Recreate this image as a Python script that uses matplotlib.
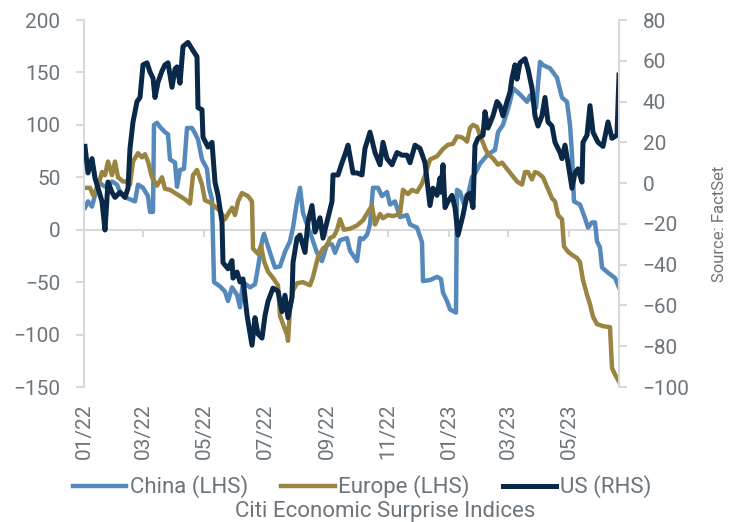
import numpy as np
import matplotlib
matplotlib.use("Agg")
import matplotlib.pyplot as plt
import matplotlib.dates as mdates

plt.rcParams['font.family'] = ['Roboto', 'DejaVu Sans']

# days since 2022-01-01 and index values
china_day = [1, 4, 8, 11, 14, 18, 23, 28, 33, 36, 41, 46, 51, 54, 59, 64, 66, 69, 70, 73,
             76, 81, 84, 86, 91, 93, 96, 100, 103, 108, 111, 114, 118, 123, 125, 128, 130,
             136, 141, 144, 148, 153, 156, 159, 166, 171, 174, 178, 180, 183, 186, 191, 196,
             201, 206, 209, 213, 216, 219, 223, 228, 233, 238, 243, 248, 251, 256, 263, 266,
             273, 276, 279, 283, 286, 289, 294, 298, 303, 306, 311, 316, 323, 326, 333, 338,
             339, 346, 353, 357, 359, 363, 366, 372, 373, 376, 380, 384, 388, 392, 396, 404,
             411, 414, 419, 423, 426, 429, 436, 443, 446, 452, 456, 459, 466, 473, 478, 483,
             486, 488, 490, 496, 501, 504, 508, 511, 513, 516, 518, 524, 531, 535]
china_val = [21, 27, 22, 33, 46, 43, 40, 46, 43, 36, 31, 29, 27, 43, 40, 32, 17, 17, 100, 102,
             98, 93, 91, 67, 64, 41, 57, 58, 97, 97, 92, 86, 67, 58, 40, 29, -50,
             -54, -59, -68, -55, -62, -74, -50, -55, -52, -36, -11, -4, -13, -22, -36, -35,
             -21, -11, 2, 27, 40, 16, 5, -8, -22, -30, -14, -14, -22, -10, -8, -20,
             -30, -8, -9, -5, 5, 40, 40, 32, 36, 24, 27, 12, 14, 5, 2, -12,
             -49, -48, -45, -47, -60, -68, -76, -79, 38, 36, 24, 33, 50, 55, 63, 72,
             76, 93, 100, 112, 122, 135, 129, 122, 128, 116, 160, 157, 154, 145, 126, 122,
             100, 72, 27, 24, 11, 2, 7, 7, -11, -17, -36, -41, -46, -55]

europe_day = [1, 6, 9, 14, 18, 21, 24, 28, 31, 34, 39, 43, 46, 49, 54, 58, 61, 64, 68, 73,
              78, 81, 86, 91, 96, 101, 106, 109, 113, 118, 121, 126, 131, 136, 141, 144, 148,
              151, 154, 158, 164, 168, 169, 174, 177, 180, 184, 189, 194, 196, 199, 203, 204,
              206, 209, 213, 219, 226, 229, 234, 239, 243, 246, 250, 253, 256, 260, 266, 273,
              279, 284, 288, 291, 296, 299, 304, 309, 316, 319, 324, 328, 333, 338, 341, 346,
              353, 359, 364, 369, 373, 378, 381, 383, 386, 389, 393, 396, 401, 404, 409, 414,
              418, 423, 428, 433, 438, 441, 444, 448, 451, 454, 459, 464, 468, 471, 474, 478,
              480, 484, 488, 493, 496, 499, 503, 506, 509, 513, 519, 526, 528, 531, 535]
europe_val = [40, 40, 33, 41, 55, 52, 65, 52, 65, 50, 46, 46, 43, 65, 73, 69, 72, 65, 50, 42,
              50, 39, 38, 35, 32, 29, 25, 52, 57, 43, 28, 26, 22, 18, 10, 15, 21,
              14, 27, 35, 32, 27, -18, -23, -15, -30, -40, -46, -53, -82, -90, -100, -106,
              -75, -58, -51, -50, -53, -45, -26, -18, -15, -8, -6, 0, 10, 0, 1, 4,
              9, 17, 23, 5, 15, 11, 14, 13, 15, 38, 34, 38, 36, 44, 52, 67,
              70, 77, 81, 82, 89, 88, 86, 84, 97, 100, 98, 90, 78, 72, 68, 62,
              64, 58, 52, 46, 43, 55, 55, 48, 55, 54, 50, 39, 30, 27, 14, 10,
              -16, -21, -24, -27, -31, -48, -62, -71, -83, -90, -92, -93, -132, -138, -145]

us_day = [1, 4, 8, 11, 14, 18, 21, 24, 28, 31, 36, 41, 44, 46, 49, 53, 56, 59, 63, 66,
          69, 71, 74, 78, 81, 84, 88, 91, 93, 96, 99, 104, 109, 113, 114, 118, 119, 124,
          128, 131, 134, 138, 139, 144, 148, 149, 153, 156, 159, 163, 168, 171, 174, 178,
          181, 184, 189, 194, 198, 201, 204, 208, 209, 213, 216, 221, 224, 228, 231, 236,
          239, 243, 248, 249, 254, 258, 261, 264, 269, 273, 278, 281, 286, 291, 296, 299,
          303, 308, 313, 318, 323, 326, 331, 336, 341, 344, 346, 349, 353, 356, 357, 359,
          361, 364, 368, 371, 374, 379, 383, 386, 389, 391, 394, 399, 401, 404, 409, 413,
          416, 419, 423, 426, 428, 431, 433, 436, 441, 444, 448, 451, 454, 458, 461, 464,
          468, 471, 476, 478, 481, 484, 488, 491, 494, 498, 499, 503, 506, 509, 514, 519,
          524, 528, 533, 535]
us_val = [18, 5, 12, 2.5, -2.5, -9, -23, 0.5, -4.5, -7, -4.5, -7, -2.5, 17, 30, 40, 42, 58, 59, 54.5,
          51.5, 42, 49.5, 55, 58, 59, 47, 56, 57, 49, 67, 69, 65, 62, 37, 36, 22.5, 17.7,
          20, 0.5, -6, -19, -39, -42, -38, -46.6, -43.6, -48.5, -47, -64.7, -79.5, -66, -74, -76,
          -65, -58, -51.5, -53, -63, -55, -66, -56, -39, -27, -25.5, -34, -19, -11, -24, -17,
          -27, -19, -9, 4, 4, 10, 14, 18.6, 5, 5, 4, 17, 25, 15, 9, 20,
          12, 9, 15, 13.7, 13.7, 10, 18.6, 17, 10, -2.5, -11, -2.5, -6, 2.5, -4.5, 9,
          -12, -9, -6, -12, -25.5, -15.7, -6, -5, -12, 18.6, 22, 23.5, 35, 27, 33, 40,
          38, 33, 40, 44.6, 51.5, 58, 51, 59, 61, 56, 46.6, 33, 28, 33, 42, 30,
          28, 20, 15, 12, 18.6, 10, -2.5, 5, 7, 0.5, 20, 23.5, 38, 25, 20, 18,
          30, 22, 23.5, 53]

series_names = ['China (LHS)', 'Europe (LHS)', 'US (RHS)']
colors = ['#5589bb', '#9a8442', '#0a2848']
start = np.datetime64('2022-01-01')

grey = '#6d757c'
axis_grey = '#d9d9d9'

fig = plt.figure(figsize=(7.29, 5.22), dpi=100)
ax = fig.add_axes([84 / 729, 1 - 387 / 522, 535 / 729, 367 / 522])
ax2 = ax.twinx()

def to_dates(days):
    return start + np.array(days).astype('timedelta64[D]')

l1, = ax.plot(to_dates(china_day), china_val, color=colors[0], lw=3.2, solid_joinstyle='round')
l2, = ax.plot(to_dates(europe_day), europe_val, color=colors[1], lw=3.2, solid_joinstyle='round')
l3, = ax2.plot(to_dates(us_day), us_val, color=colors[2], lw=3.6, solid_joinstyle='round')

ax.set_xlim(start, start + np.timedelta64(535, 'D'))
ax.set_ylim(-150, 200)
ax.set_yticks(np.arange(-150, 201, 50))
ax2.set_ylim(-100, 80)
ax2.set_yticks(np.arange(-100, 81, 20))

for a in (ax, ax2):
    for s in a.spines.values():
        s.set_visible(False)
ax.spines['left'].set_visible(True)
ax.spines['left'].set_color(axis_grey)
ax.spines['left'].set_linewidth(1.5)
ax2.spines['right'].set_visible(True)
ax2.spines['right'].set_color(axis_grey)
ax2.spines['right'].set_linewidth(1.5)

ax.tick_params(axis='y', colors=axis_grey, labelcolor=grey, labelsize=15, length=6, width=1.5, pad=11)
ax2.tick_params(axis='y', colors=axis_grey, labelcolor=grey, labelsize=15, length=6, width=1.5, pad=11)

# month labels at the bottom, axis line itself sits at zero
month_loc = mdates.MonthLocator(bymonth=[1, 3, 5, 7, 9, 11])
ax.xaxis.set_major_locator(month_loc)
ax.xaxis.set_major_formatter(mdates.DateFormatter('%m/%y'))
ax.tick_params(axis='x', length=0, labelsize=15, labelcolor=grey, pad=12, labelrotation=90)

zero = ax.secondary_xaxis(150 / 350)
zero.xaxis.set_major_locator(mdates.MonthLocator(bymonth=[1, 3, 5, 7, 9, 11]))
zero.tick_params(axis='x', labelbottom=False, length=5, width=1.5, color=axis_grey, direction='out')
zero.spines['bottom'].set_color(axis_grey)
zero.spines['bottom'].set_linewidth(1.5)

fig.legend([l1, l2, l3], series_names, loc='center', bbox_to_anchor=(362 / 729, 1 - 487 / 522),
           ncol=3, frameon=False, fontsize=16, labelcolor=grey, handlelength=2.4,
           handletextpad=0.15, columnspacing=1.5)
fig.text(385 / 729, 1 - 511 / 522, 'Citi Economic Surprise Indices', ha='center', va='center',
         fontsize=16, color=grey)
fig.text(719 / 729, 1 - 224 / 522, 'Source: FactSet', rotation=90, ha='center', va='center',
         fontsize=12, color=grey)

fig.savefig('out.png', dpi=100)
